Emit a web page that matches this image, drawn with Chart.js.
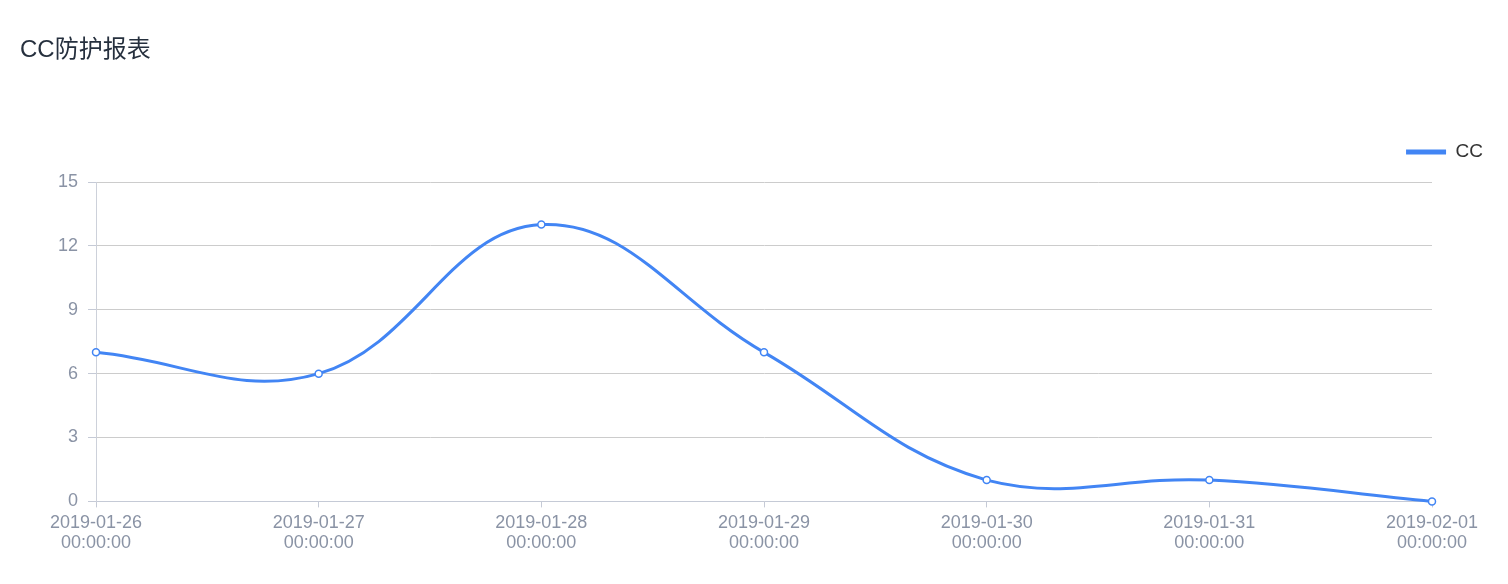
<!DOCTYPE html>
<html>
<head>
<meta charset="utf-8">
<script src="https://cdn.jsdelivr.net/npm/chart.js@4/dist/chart.umd.min.js"></script>
<style>
  html, body { margin: 0; padding: 0; background: #fff; }
  #wrap { width: 1508px; height: 584px; position: relative; }
</style>
</head>
<body>
<div id="wrap"><canvas id="c"></canvas></div>
<script>
const chartTitle = 'CC防护报表';
const seriesName = 'CC';
const categories = [
  ['2019-01-26', '00:00:00'],
  ['2019-01-27', '00:00:00'],
  ['2019-01-28', '00:00:00'],
  ['2019-01-29', '00:00:00'],
  ['2019-01-30', '00:00:00'],
  ['2019-01-31', '00:00:00'],
  ['2019-02-01', '00:00:00']
];
const ccValues = [7, 6, 13, 7, 1, 1, 0];
const yTicks = [0, 3, 6, 9, 12, 15];

const FONT = "'Liberation Sans', 'Noto Sans CJK SC', sans-serif";
const BLUE = '#4285f4';

// extra space between the legend row and the plot area
const legendGap = {
  id: 'legendGap',
  beforeLayout(chart) {
    const lg = chart.legend;
    if (lg && !lg._gapPatched) {
      const orig = lg.fit.bind(lg);
      lg.fit = function () { orig(); this.height += 10.5; };
      lg._gapPatched = true;
    }
  }
};

new Chart(document.getElementById('c'), {
  type: 'line',
  plugins: [legendGap],
  data: {
    labels: categories,
    datasets: [{
      label: seriesName,
      data: ccValues,
      borderColor: BLUE,
      backgroundColor: BLUE,
      borderWidth: 3,
      tension: 0.4,
      fill: false,
      pointRadius: 3.5,
      pointBorderWidth: 1.5,
      pointBackgroundColor: '#ffffff',
      pointBorderColor: BLUE,
      clip: false,
      yAxisID: 'y'
    }]
  },
  options: {
    responsive: true,
    maintainAspectRatio: false,
    animation: false,
    layout: { padding: { left: 20, right: 0, top: 0, bottom: 25 } },
    plugins: {
      title: {
        display: true,
        text: chartTitle,
        align: 'start',
        color: '#26303e',
        font: { family: FONT, size: 24, weight: 'normal', lineHeight: 1.2 },
        padding: { top: 35.6, bottom: 53.1 }
      },
      legend: {
        display: true,
        position: 'top',
        align: 'end',
        labels: {
          boxWidth: 40,
          boxHeight: 5,
          padding: 25,
          color: '#333333',
          font: { family: FONT, size: 19, lineHeight: 1.2 },
          generateLabels: (chart) => chart.data.datasets.map((ds, i) => ({
            text: ds.label,
            fillStyle: ds.borderColor,
            strokeStyle: ds.borderColor,
            lineWidth: 0,
            fontColor: '#333333',
            datasetIndex: i,
            hidden: false
          }))
        }
      },
      tooltip: { enabled: false }
    },
    scales: {
      x: {
        type: 'category',
        offset: false,
        grid: {
          drawOnChartArea: false,
          drawTicks: true,
          tickLength: 6,
          tickColor: '#c5cad6'
        },
        border: { display: true, color: '#c5cad6', width: 1 },
        ticks: {
          color: '#8a93a5',
          padding: 6,
          maxRotation: 0,
          autoSkip: false,
          font: { family: FONT, size: 18, lineHeight: 1.1 }
        }
      },
      y: {
        type: 'linear',
        position: 'left',
        min: 0,
        max: 15,
        afterFit: (s) => { s.width = 76; },
        afterBuildTicks: (s) => { s.ticks = yTicks.map(v => ({ value: v })); },
        grid: {
          color: '#cccccc',
          drawTicks: true,
          tickLength: 8,
          tickColor: '#c5cad6'
        },
        border: { display: true, color: '#cdd1da', width: 1 },
        ticks: {
          color: '#8a93a5',
          padding: 10,
          font: { family: FONT, size: 18 }
        }
      },
      yRight: {
        type: 'linear',
        position: 'right',
        display: true,
        afterFit: (s) => { s.width = 76; },
        grid: { display: false, drawTicks: false },
        border: { display: false },
        ticks: { display: false }
      }
    }
  }
});
</script>
</body>
</html>
